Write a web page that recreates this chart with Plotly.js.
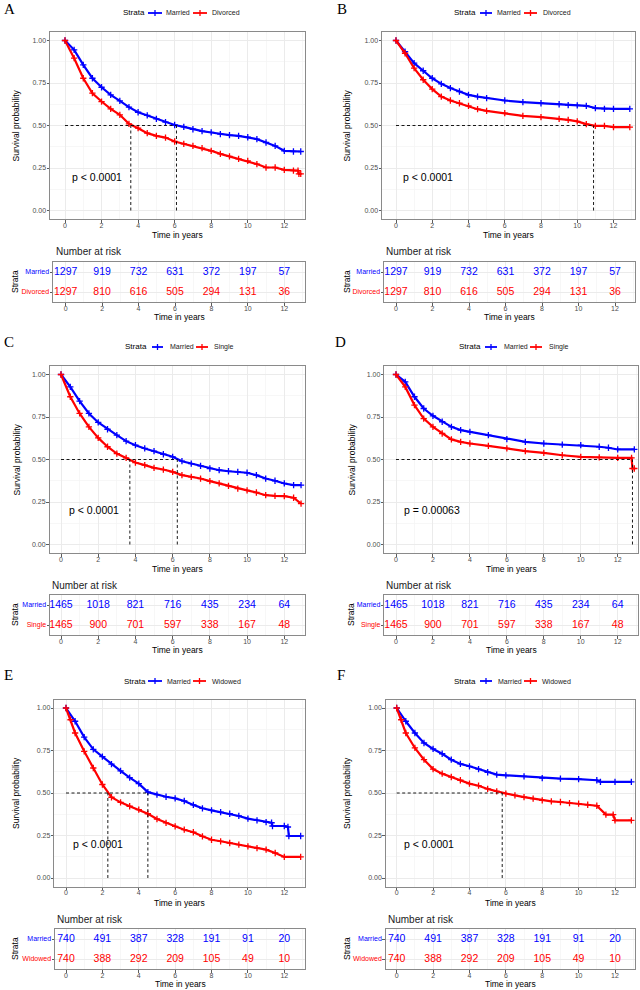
<!DOCTYPE html>
<html><head><meta charset="utf-8">
<script src="https://cdn.plot.ly/plotly-3.0.1.min.js"></script>
<style>html,body{margin:0;padding:0;background:#fff}#chart{width:640px;height:990px}</style>
</head><body><div id="chart"></div>
<script>
// ---------------- DATA ----------------
const riskTimes = [0, 2, 4, 6, 8, 10, 12];

// Panel A: Married vs Divorced
const A_married_t = [0,0.5,1,1.5,2,2.5,3,3.5,4,4.5,5,5.5,6,6.5,7,7.5,8,8.5,9,9.5,10,10.5,11,11.5,12,12.5,12.9];
const A_married_s = [1,0.945,0.857,0.778,0.725,0.68,0.645,0.608,0.578,0.559,0.539,0.52,0.503,0.492,0.478,0.467,0.459,0.449,0.443,0.439,0.431,0.42,0.40,0.38,0.351,0.347,0.347];
const A_other_t = [0,0.5,1,1.5,2,2.5,3,3.5,4,4.5,5,5.5,6,6.5,7,7.5,8,8.5,9,9.5,10,10.5,11,11.5,12,12.5,12.75,12.8,12.9];
const A_other_s = [1,0.896,0.778,0.69,0.641,0.598,0.563,0.51,0.484,0.455,0.439,0.429,0.406,0.392,0.38,0.367,0.351,0.333,0.318,0.304,0.292,0.273,0.253,0.253,0.239,0.235,0.235,0.216,0.216];
const A_medians = [3.6, 6.1];
const A_pval = "p < 0.0001";

// Panel B: Married vs Divorced
const B_married_t = [0,0.5,1,1.5,2,2.5,3,3.5,4,4.5,5,6,7,8,9,9.5,10,10.5,11,11.5,12,12.9];
const B_married_s = [1,0.935,0.867,0.822,0.778,0.745,0.72,0.70,0.68,0.67,0.661,0.647,0.637,0.631,0.625,0.62,0.618,0.616,0.602,0.598,0.598,0.598];
const B_other_t = [0,0.5,1,1.5,2,2.5,3,3.5,4,4.5,5,6,7,8,9,9.5,10,10.5,11,11.5,12,12.9];
const B_other_s = [1,0.925,0.837,0.769,0.714,0.67,0.647,0.631,0.616,0.596,0.586,0.573,0.557,0.549,0.539,0.533,0.524,0.508,0.498,0.498,0.49,0.49];
const B_medians = [10.9];
const B_pval = "p < 0.0001";

// Panel C: Married vs Single
const C_married_t = [0,0.5,1,1.5,2,2.5,3,3.5,4,4.5,5,5.5,6,6.5,7,7.5,8,8.5,9,9.5,10,10.5,11,11.5,12,12.5,12.9];
const C_married_s = [1,0.927,0.843,0.771,0.718,0.678,0.643,0.608,0.584,0.565,0.549,0.531,0.516,0.49,0.476,0.463,0.447,0.437,0.431,0.427,0.422,0.408,0.388,0.375,0.359,0.349,0.349];
const C_other_t = [0,0.5,1,1.5,2,2.5,3,3.5,4,4.5,5,5.5,6,6.5,7,7.5,8,8.5,9,9.5,10,10.5,11,11.5,12,12.5,12.9];
const C_other_s = [1,0.869,0.771,0.692,0.627,0.575,0.535,0.51,0.482,0.467,0.451,0.441,0.427,0.408,0.398,0.388,0.373,0.359,0.345,0.329,0.318,0.306,0.29,0.286,0.284,0.275,0.24];
const C_medians = [3.7, 6.25];
const C_pval = "p < 0.0001";

// Panel D: Married vs Single
const D_married_t = [0,0.5,1,1.5,2,2.5,3,3.5,4,5,6,7,8,9,10,11,11.5,12,12.9];
const D_married_s = [1,0.957,0.869,0.8,0.757,0.722,0.692,0.673,0.663,0.643,0.62,0.604,0.594,0.588,0.584,0.575,0.569,0.559,0.559];
const D_other_t = [0,0.5,1,1.5,2,2.5,3,3.5,4,5,6,7,8,9,10,11,12,12.75,12.8,12.9];
const D_other_s = [1,0.927,0.82,0.741,0.692,0.653,0.618,0.604,0.594,0.58,0.565,0.549,0.539,0.525,0.516,0.512,0.51,0.51,0.447,0.447];
const D_medians = [12.8];
const D_pval = "p = 0.00063";

// Panel E: Married vs Widowed
const E_married_t = [0,0.5,1,1.5,2,2.5,3,3.5,4,4.5,5,5.5,6,6.5,7,7.5,8,8.5,9,9.5,10,10.5,11,11.3,11.35,12,12.2,12.25,12.9];
const E_married_s = [1,0.922,0.829,0.757,0.714,0.67,0.63,0.59,0.555,0.505,0.49,0.478,0.468,0.453,0.43,0.41,0.398,0.388,0.378,0.365,0.349,0.339,0.329,0.325,0.306,0.306,0.3,0.247,0.247];
const E_other_t = [0,0.25,0.5,1,1.5,2,2.5,3,3.5,4,4.5,5,5.5,6,6.5,7,7.5,8,8.5,9,9.5,10,10.5,11,11.5,12,12.9];
const E_other_s = [1,0.931,0.853,0.745,0.647,0.55,0.475,0.445,0.422,0.402,0.378,0.347,0.324,0.304,0.284,0.269,0.245,0.225,0.216,0.206,0.196,0.186,0.176,0.167,0.147,0.124,0.124];
const E_medians = [2.3, 4.5];
const E_pval = "p < 0.0001";

// Panel F: Married vs Widowed
const F_married_t = [0,0.5,1,1.5,2,2.5,3,3.5,4,4.5,5,5.5,6,7,8,9,10,11,11.2,12,12.9];
const F_married_s = [1,0.922,0.853,0.794,0.759,0.731,0.696,0.671,0.657,0.641,0.622,0.608,0.604,0.598,0.588,0.584,0.582,0.575,0.565,0.565,0.565];
const F_other_t = [0,0.25,0.5,1,1.5,2,2.5,3,3.5,4,4.5,5,5.5,6,6.5,7,7.5,8,8.5,9,9.5,10,10.5,11,11.5,11.9,12,12.9];
const F_other_s = [1,0.931,0.853,0.765,0.696,0.641,0.614,0.594,0.575,0.555,0.543,0.524,0.51,0.496,0.486,0.476,0.467,0.457,0.451,0.447,0.441,0.437,0.431,0.425,0.373,0.373,0.339,0.339];
const F_medians = [5.8];
const F_pval = "p < 0.0001";

// Number at risk
const risk_AB_married = [1297, 919, 732, 631, 372, 197, 57];
const risk_AB_divorced = [1297, 810, 616, 505, 294, 131, 36];
const risk_CD_married = [1465, 1018, 821, 716, 435, 234, 64];
const risk_CD_single = [1465, 900, 701, 597, 338, 167, 48];
const risk_EF_married = [740, 491, 387, 328, 191, 91, 20];
const risk_EF_widowed = [740, 388, 292, 209, 105, 49, 10];

const yTickVals = [0, 0.25, 0.5, 0.75, 1];
const yTickText = ["0.00", "0.25", "0.50", "0.75", "1.00"];

// ---------------- LAYOUT HELPERS ----------------
const W = 640, H = 990;
const BLUE = "#0000FF", RED = "#FF0000";
const FONT = "Liberation Sans, Arial, sans-serif";
const fx = v => v / W;
const fy = v => 1 - v / H;

const panels = [
  {letter:"A", other:"Divorced", mt:A_married_t, ms:A_married_s, ot:A_other_t, os:A_other_s, med:A_medians, p:A_pval, rm:risk_AB_married, ro:risk_AB_divorced,
   plot:[50,305,32,219], p0:65, p12:284.3, tab:[53,305,262,302], tp0:65.7, tp12:284.3, let:[2,9],
   leg:{s:122, b:[148,162], m:164, r:[193,207], o:210, y:13}, ylab:16, tstr:15, nar:54},
  {letter:"B", other:"Divorced", mt:B_married_t, ms:B_married_s, ot:B_other_t, os:B_other_s, med:B_medians, p:B_pval, rm:risk_AB_married, ro:risk_AB_divorced,
   plot:[382,635,32,219], p0:396, p12:613.5, tab:[384,635,262,302], tp0:396, tp12:615, let:[335,9],
   leg:{s:453, b:[480,492], m:495, r:[524,537], o:541, y:13}, ylab:347, tstr:347, nar:384},
  {letter:"C", other:"Single", mt:C_married_t, ms:C_married_s, ot:C_other_t, os:C_other_s, med:C_medians, p:C_pval, rm:risk_CD_married, ro:risk_CD_single,
   plot:[49.5,305,366,553], p0:61, p12:284.3, tab:[50,305,595,635], tp0:61, tp12:284.3, let:[2,342],
   leg:{s:124, b:[152,163], m:168, r:[196,208], o:212, y:347}, ylab:16, tstr:15, nar:50},
  {letter:"D", other:"Single", mt:D_married_t, ms:D_married_s, ot:D_other_t, os:D_other_s, med:D_medians, p:D_pval, rm:risk_CD_married, ro:risk_CD_single,
   plot:[384.3,638,366,553], p0:396, p12:617.7, tab:[384.3,638,595,635], tp0:396, tp12:617.7, let:[333,342],
   leg:{s:458, b:[485,497], m:502, r:[530,542], o:547, y:347}, ylab:351, tstr:351, nar:384},
  {letter:"E", other:"Widowed", mt:E_married_t, ms:E_married_s, ot:E_other_t, os:E_other_s, med:E_medians, p:E_pval, rm:risk_EF_married, ro:risk_EF_widowed,
   plot:[54.3,304.5,699.5,886.5], p0:66, p12:284.3, tab:[55,305,929,969], tp0:66, tp12:284.3, let:[2,675],
   leg:{s:123, b:[148,162], m:165, r:[193,206], o:210, y:681}, ylab:16, tstr:15, nar:55},
  {letter:"F", other:"Widowed", mt:F_married_t, ms:F_married_s, ot:F_other_t, os:F_other_s, med:F_medians, p:F_pval, rm:risk_EF_married, ro:risk_EF_widowed,
   plot:[385.7,635,699.5,886.5], p0:396.7, p12:615, tab:[385.7,635,929,969], tp0:396.7, tp12:615, let:[335,675],
   leg:{s:453, b:[480,492], m:496, r:[524,537], o:540, y:681}, ylab:347, tstr:347, nar:386}
];

const traces = [];
const layout = {
  width: W, height: H, margin: {l:0, r:0, t:0, b:0},
  paper_bgcolor: "#fff", plot_bgcolor: "#fff",
  showlegend: false, hovermode: false,
  font: {family: FONT, color: "#000"},
  annotations: [], shapes: []
};

function xRange(b0, b1, p0, p12) {
  const k = (p12 - p0) / 12;
  return [(b0 - p0) / k, (b1 - p0) / k];
}

function baseX(domain, range, anchor) {
  return {
    domain: domain, range: range, anchor: anchor,
    tickvals: [0,2,4,6,8,10,12], ticks: "outside", ticklen: 2.5, tickwidth: 0.8, tickcolor: "#333",
    ticklabelstandoff: -3,
    tickfont: {size: 7, color: "#4d4d4d", family: FONT},
    showgrid: true, gridcolor: "#ebebeb", gridwidth: 1,
    minor: {tickvals: [1,3,5,7,9,11,13], showgrid: true, gridcolor: "#f4f4f4", gridwidth: 0.7, ticks: ""},
    zeroline: false, showline: true, mirror: true, linecolor: "#8a8a8a", linewidth: 1,
    fixedrange: true
  };
}

panels.forEach((P, i) => {
  const xa = 2*i + 1, xb = 2*i + 2;
  const xn = "x" + xa, yn = "y" + xa, xtn = "x" + xb, ytn = "y" + xb;
  const [bx0, bx1, by0, by1] = P.plot;
  const [tx0, tx1, ty0, ty1] = P.tab;

  // survival plot axes
  layout["xaxis" + xa] = baseX([fx(bx0), fx(bx1)], xRange(bx0, bx1, P.p0, P.p12), yn);
  layout["yaxis" + xa] = {
    domain: [fy(by1), fy(by0)], range: [-0.05, 1.05], anchor: xn,
    tickvals: yTickVals, ticktext: yTickText, ticks: "outside", ticklen: 2.5, tickwidth: 0.8, tickcolor: "#333",
    ticklabelstandoff: -1,
    tickfont: {size: 7, color: "#4d4d4d", family: FONT},
    showgrid: true, gridcolor: "#ebebeb", gridwidth: 1,
    minor: {tickvals: [0.125, 0.375, 0.625, 0.875], showgrid: true, gridcolor: "#f4f4f4", gridwidth: 0.7, ticks: ""},
    zeroline: false, showline: true, mirror: true, linecolor: "#8a8a8a", linewidth: 1, fixedrange: true
  };
  // risk table axes
  layout["xaxis" + xb] = baseX([fx(tx0), fx(tx1)], xRange(tx0, tx1, P.tp0, P.tp12), ytn);
  layout["yaxis" + xb] = {
    domain: [fy(ty1), fy(ty0)], range: [-0.5, 1.5], anchor: xtn,
    tickvals: [1, 0],
    ticktext: ['<span style="color:' + BLUE + '">Married</span>', '<span style="color:' + RED + '">' + P.other + '</span>'],
    ticks: "outside", ticklen: 2.5, tickwidth: 0.8, tickcolor: "#333",
    ticklabelstandoff: -1,
    tickfont: {size: 7, family: FONT},
    showgrid: true, gridcolor: "#ebebeb", gridwidth: 1,
    zeroline: false, showline: true, mirror: true, linecolor: "#8a8a8a", linewidth: 1, fixedrange: true
  };

  // curves
  [[P.mt, P.ms, BLUE], [P.ot, P.os, RED]].forEach(([t, s, c]) => {
    traces.push({
      type: "scatter", mode: "lines+markers", x: t, y: s, xaxis: xn, yaxis: yn,
      line: {color: c, width: 2.2},
      marker: {symbol: "cross-thin", size: 4.5, color: c, line: {color: c, width: 1.3}},
      cliponaxis: false
    });
  });

  // median lines
  const mx = [], my = [];
  mx.push(0, Math.max(...P.med), null); my.push(0.5, 0.5, null);
  P.med.forEach(m => { mx.push(m, m, null); my.push(0, 0.5, null); });
  traces.push({type: "scatter", mode: "lines", x: mx, y: my, xaxis: xn, yaxis: yn,
    line: {color: "#000", width: 0.9, dash: "3px,2.5px"}});

  // risk table numbers
  traces.push({type: "scatter", mode: "text", x: riskTimes, y: riskTimes.map(() => 1), text: P.rm.map(String),
    xaxis: xtn, yaxis: ytn, textfont: {size: 10.5, color: BLUE, family: FONT}, cliponaxis: false});
  traces.push({type: "scatter", mode: "text", x: riskTimes, y: riskTimes.map(() => 0), text: P.ro.map(String),
    xaxis: xtn, yaxis: ytn, textfont: {size: 10.5, color: RED, family: FONT}, cliponaxis: false});

  const A = layout.annotations, S = layout.shapes;
  // p-value
  A.push({xref: xn, yref: yn, x: 0.3, y: 0.2, text: P.p, showarrow: false, xanchor: "left", yanchor: "middle",
    font: {size: 10.5, color: "#000", family: FONT}});
  // panel letter
  A.push({xref: "paper", yref: "paper", x: fx(P.let[0]), y: fy(P.let[1]), text: P.letter, showarrow: false,
    xanchor: "left", yanchor: "middle", font: {size: 15, family: "Liberation Serif, Times New Roman, serif", color: "#000"}});
  // legend
  const L = P.leg;
  A.push({xref: "paper", yref: "paper", x: fx(L.s - 1), y: fy(L.y), text: "Strata", showarrow: false, xanchor: "left", yanchor: "middle",
    font: {size: 8, color: "#000", family: FONT}});
  A.push({xref: "paper", yref: "paper", x: fx(L.m), y: fy(L.y), text: "Married", showarrow: false, xanchor: "left", yanchor: "middle",
    font: {size: 7, color: "#1a1a1a", family: FONT}});
  A.push({xref: "paper", yref: "paper", x: fx(L.o), y: fy(L.y), text: P.other, showarrow: false, xanchor: "left", yanchor: "middle",
    font: {size: 7, color: "#1a1a1a", family: FONT}});
  [[L.b, BLUE], [L.r, RED]].forEach(([seg, c]) => {
    S.push({type: "line", xref: "paper", yref: "paper", x0: fx(seg[0]), x1: fx(seg[1]), y0: fy(L.y), y1: fy(L.y), line: {color: c, width: 1.8}});
    const cx = (seg[0] + seg[1]) / 2;
    S.push({type: "line", xref: "paper", yref: "paper", x0: fx(cx), x1: fx(cx), y0: fy(L.y - 3), y1: fy(L.y + 3), line: {color: c, width: 1.3}});
  });
  // axis titles
  A.push({xref: "paper", yref: "paper", x: fx((bx0 + bx1) / 2), y: fy(by1 + 16), text: "Time in years", showarrow: false,
    xanchor: "center", yanchor: "middle", font: {size: 8.5, color: "#000", family: FONT}});
  A.push({xref: "paper", yref: "paper", x: fx(P.ylab), y: fy((by0 + by1) / 2), text: "Survival probability", showarrow: false,
    textangle: -90, xanchor: "center", yanchor: "middle", font: {size: 8.5, color: "#000", family: FONT}});
  A.push({xref: "paper", yref: "paper", x: fx(P.nar), y: fy(ty0 - 10), text: "Number at risk", showarrow: false,
    xanchor: "left", yanchor: "middle", font: {size: 10, color: "#1a1a1a", family: FONT}});
  A.push({xref: "paper", yref: "paper", x: fx(P.tstr), y: fy((ty0 + ty1) / 2), text: "Strata", showarrow: false,
    textangle: -90, xanchor: "center", yanchor: "middle", font: {size: 8.5, color: "#000", family: FONT}});
  A.push({xref: "paper", yref: "paper", x: fx((tx0 + tx1) / 2), y: fy(ty1 + 15), text: "Time in years", showarrow: false,
    xanchor: "center", yanchor: "middle", font: {size: 8.5, color: "#000", family: FONT}});
});

Plotly.newPlot("chart", traces, layout, {staticPlot: true, displayModeBar: false});
</script>
</body></html>
